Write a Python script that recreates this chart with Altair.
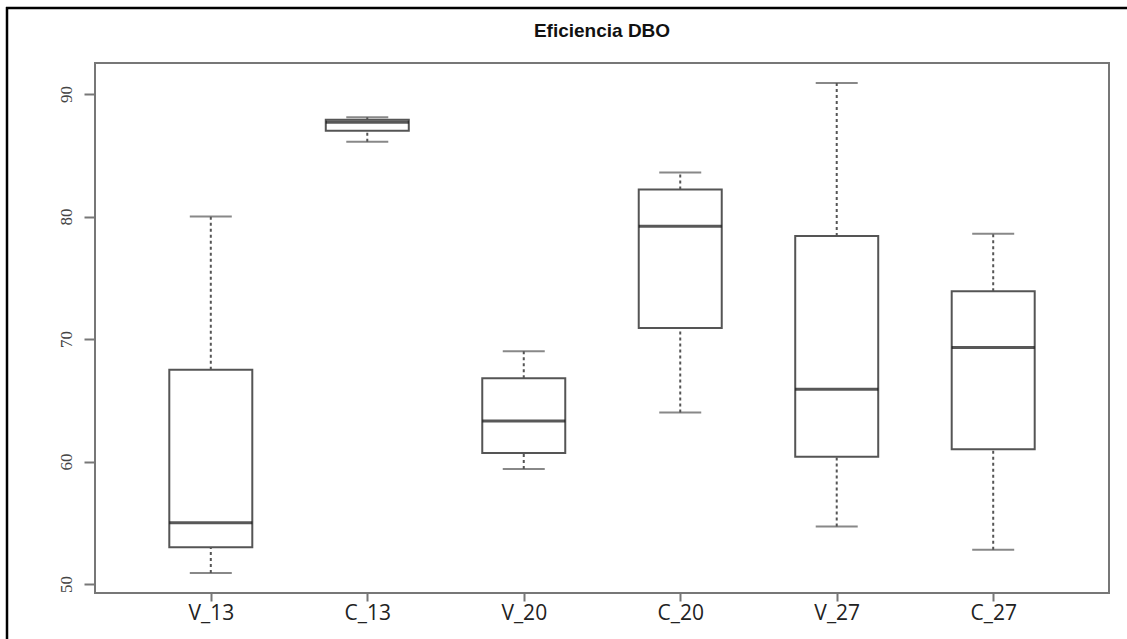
import altair as alt
import pandas as pd

groups = ["V_13", "C_13", "V_20", "C_20", "V_27", "C_27"]
lower = [50.9, 86.1, 59.4, 64.0, 54.7, 52.8]
q1 = [53.0, 87.0, 60.7, 70.9, 60.4, 61.0]
median = [55.0, 87.7, 63.3, 79.2, 65.9, 69.3]
q3 = [67.5, 87.9, 66.8, 82.2, 78.4, 73.9]
upper = [80.0, 88.1, 69.0, 83.6, 90.9, 78.6]
y_ticks = [50, 60, 70, 80, 90]
chart_title = "Eficiencia DBO"
y_title = "mg/L"

df = pd.DataFrame({"group": groups, "lower": lower, "q1": q1,
                   "median": median, "q3": q3, "upper": upper})

W, H = 1014, 530
LINE = "#555555"

x = alt.X("group:N", sort=groups, title=None,
          scale=alt.Scale(type="point", padding=0.74),
          axis=alt.Axis(domain=False, tickSize=8, tickColor="#777", tickWidth=2,
                        labelAngle=0, labelFont="Open Sans", labelFontSize=21,
                        labelColor="#222", labelPadding=1))
yscale = alt.Scale(domain=[49.27, 92.53], nice=False, zero=False)
y = alt.Y("q1:Q", scale=yscale, title=y_title,
          axis=alt.Axis(values=y_ticks, domain=False, grid=False, tickSize=11,
                        tickColor="#777", tickWidth=2, labelAngle=270,
                        labelAlign="center", labelBaseline="alphabetic",
                        labelFont="Liberation Sans Narrow", labelFontSize=17,
                        labelColor="#444", labelPadding=13,
                        titleFont="Liberation Sans", titleFontSize=13,
                        titleFontWeight="normal", titleColor="#333",
                        titleAngle=270, titleX=-74, titleY=H / 2,
                        titleAlign="center", titleBaseline="middle"))

base = alt.Chart(df)

whisk_lo = base.mark_rule(color=LINE, strokeWidth=2, strokeDash=[3, 3]).encode(
    x=x, y=alt.Y("lower:Q", scale=yscale, title=None), y2="q1:Q")
whisk_hi = base.mark_rule(color=LINE, strokeWidth=2, strokeDash=[3, 3]).encode(
    x=x, y=alt.Y("q3:Q", scale=yscale, title=None), y2="upper:Q")
cap_lo = base.mark_tick(color=LINE, thickness=2, size=42, orient="horizontal").encode(
    x=x, y=alt.Y("lower:Q", scale=yscale, title=None))
cap_hi = base.mark_tick(color=LINE, thickness=2, size=42, orient="horizontal").encode(
    x=x, y=alt.Y("upper:Q", scale=yscale, title=None))
box = base.mark_bar(fill="white", stroke=LINE, strokeWidth=2, size=83).encode(
    x=x, y=y, y2="q3:Q")
med = base.mark_tick(color="#111", thickness=3, size=83, orient="horizontal").encode(
    x=x, y=alt.Y("median:Q", scale=yscale, title=None))

one = alt.Chart(pd.DataFrame({"label": [chart_title]}))
title_mark = one.mark_text(font="Liberation Sans", fontSize=19, fontWeight="bold",
                           color="#111", align="center", baseline="middle").encode(
    text="label:N", x=alt.value(W / 2), y=alt.value(-32))
border_left = one.mark_rule(color="#000", strokeWidth=2.5).encode(
    x=alt.value(-88), y=alt.value(-56), y2=alt.value(H + 46))
border_top = one.mark_rule(color="#000", strokeWidth=2.5).encode(
    x=alt.value(-89), x2=alt.value(W + 18), y=alt.value(-55))

chart = alt.layer(box, whisk_lo, whisk_hi, cap_lo, cap_hi, med,
                  title_mark, border_left, border_top).properties(
    width=W, height=H,
    autosize=alt.AutoSizeParams(type="none"),
    padding={"left": 95, "top": 63, "right": 18, "bottom": 46},
    background="white",
).configure_view(stroke="#777", strokeWidth=2)

chart.save("out.html", embed_options={"renderer": "svg", "actions": False})
